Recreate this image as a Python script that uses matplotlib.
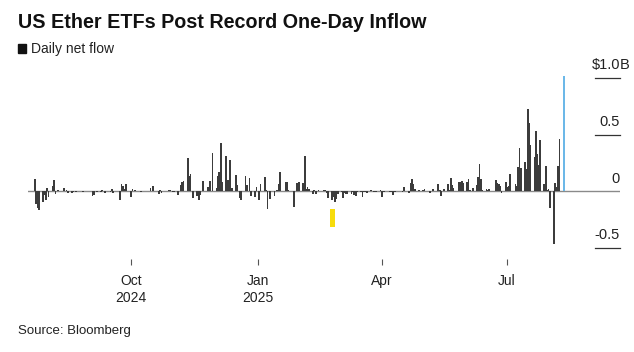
import pandas as pd
import matplotlib
matplotlib.use('Agg')
import matplotlib.pyplot as plt
import matplotlib.transforms as mtransforms
from matplotlib.patches import Rectangle

plt.rcParams['font.family'] = ['Liberation Sans', 'DejaVu Sans']

# US market holidays in the window (no ETF flows those days)
holidays = ['2024-09-02', '2024-11-28', '2024-12-25', '2025-01-01', '2025-01-09',
            '2025-01-20', '2025-02-17', '2025-04-18', '2025-05-26', '2025-06-19',
            '2025-07-04']

# daily net flow, $B, one value per trading day, by month
flow_2024_07 = [0.107, -0.113, -0.152, -0.163, -0.098, -0.034, -0.077]
flow_2024_08 = [0.027, -0.054, 0.049, 0.098, -0.024, 0.003, 0.006, 0.005, 0.024, -0.001,
                0.011, -0.016, -0.014, -0.007, -0.001, -0.005, 0.0, -0.003, -0.004, 0.0,
                0.005, -0.002]
flow_2024_09 = [-0.047, -0.038, 0.0, -0.006, -0.005, 0.011, 0.0, -0.020, 0.002, -0.010,
                0.015, -0.015, 0.005, -0.001, -0.079, 0.063, 0.043, 0.015, 0.059, 0.0]
flow_2024_10 = [-0.049, 0.015, 0.001, 0.007, -0.002, -0.009, 0.0, -0.002, 0.0, 0.0,
                0.024, 0.005, 0.048, 0.002, -0.021, 0.011, -0.019, -0.002, -0.002, 0.008,
                0.007, 0.004, -0.011]
flow_2024_11 = [-0.011, -0.030, 0.0, 0.052, 0.080, 0.086, 0.296, 0.136, 0.147, 0.003,
                -0.060, -0.039, -0.081, -0.033, 0.0, 0.091, 0.003, 0.040, 0.090, 0.333]
flow_2024_12 = [0.024, 0.133, 0.168, 0.429, 0.084, 0.306, 0.102, 0.102, 0.274, 0.024,
                0.146, 0.051, 0.003, -0.061, -0.075, 0.131, 0.054, 0.117, -0.047, -0.055,
                0.036]
flow_2025_01 = [-0.077, 0.059, 0.129, 0.014, -0.159, -0.069, -0.039, 0.0, 0.012, 0.060,
                0.167, 0.078, 0.080, 0.010, 0.005, -0.136, 0.005, 0.068, 0.070, 0.085]
flow_2025_02 = [0.070, 0.308, 0.019, 0.037, 0.021, -0.023, 0.012, -0.022, 0.002, 0.011,
                0.011, 0.007, -0.016, -0.062, -0.078, -0.050, -0.094, -0.071, -0.026]
flow_2025_03 = [-0.012, -0.063, -0.015, -0.025, -0.023, -0.021, -0.010, -0.032, -0.040, -0.012,
                -0.007, -0.052, -0.012, -0.011, -0.019, 0.014, -0.003, -0.005, -0.004, -0.006,
                0.006]
flow_2025_04 = [-0.050, -0.004, -0.004, 0.0, -0.006, -0.004, -0.032, -0.011, -0.006, 0.0,
                -0.003, -0.012, 0.040, -0.019, 0.070, 0.110, 0.065, 0.018, 0.006, 0.0,
                0.002]
flow_2025_05 = [0.006, 0.020, -0.001, -0.015, 0.002, 0.017, 0.004, 0.065, 0.010, -0.040,
                0.002, 0.015, 0.062, 0.012, 0.118, 0.050, 0.032, 0.078, 0.085, 0.092,
                0.070]
flow_2025_06 = [0.078, 0.110, 0.011, 0.005, 0.025, 0.053, 0.125, 0.240, 0.110, 0.012,
                0.021, 0.011, 0.019, 0.005, 0.101, 0.071, 0.062, 0.048, -0.020, 0.080]
flow_2025_07 = [0.040, 0.045, 0.149, 0.062, 0.047, 0.211, 0.383, 0.205, 0.259, 0.192,
                0.727, 0.602, 0.403, 0.297, 0.534, 0.332, 0.231, 0.453, 0.065, 0.219,
                0.006, 0.017]
flow_2025_08 = [-0.152, -0.465, 0.073, 0.035, 0.222, 0.461, 1.019]

flows = (flow_2024_07 + flow_2024_08 + flow_2024_09 + flow_2024_10 + flow_2024_11 +
         flow_2024_12 + flow_2025_01 + flow_2025_02 + flow_2025_03 + flow_2025_04 +
         flow_2025_05 + flow_2025_06 + flow_2025_07 + flow_2025_08)
days = pd.bdate_range('2024-07-23', '2025-08-11', freq='C', holidays=holidays)

# yellow marker under the bars in late February
marker_day = pd.Timestamp('2025-02-24')
marker_low, marker_high = -0.32, -0.16

tick_dates = pd.to_datetime(['2024-10-01', '2025-01-01', '2025-04-01', '2025-07-01'])
tick_labels = ['Oct\n2024', 'Jan\n2025', 'Apr', 'Jul']
y_ticks = [-0.5, 0, 0.5, 1.0]
y_labels = ['-0.5', '0', '0.5', '$1.0']

fig = plt.figure(figsize=(6.34, 3.52), dpi=100)
ax = fig.add_axes([0.044, 0.264, 0.934, 0.563])

ax.bar(days[:-1], flows[:-1], width=1.25, color='#3c3c3c', linewidth=0, zorder=2)
ax.bar(days[-1:], flows[-1:], width=1.5, color='#6cb8e8', linewidth=0, zorder=3)
ax.bar(marker_day, marker_high - marker_low, bottom=marker_low, width=3.5,
       color='#f7dc0c', linewidth=0, zorder=2)
ax.axhline(0, color='#8a8a8a', lw=1.0, zorder=1)

ax.set_xlim(pd.Timestamp('2024-07-18'), pd.Timestamp('2025-09-21'))
ax.set_ylim(-0.6, 1.15)
for s in ax.spines.values():
    s.set_visible(False)
ax.set_yticks([])
ax.set_xticks(tick_dates)
ax.set_xticklabels(tick_labels, fontsize=10, color='#222222', linespacing=1.2)
ax.tick_params(axis='x', length=4, width=0.8, color='#555555', pad=7)

trans = mtransforms.blended_transform_factory(ax.transAxes, ax.transData)
for v, lab in zip(y_ticks, y_labels):
    if v != 0:
        ax.plot([0.958, 1.0], [v, v], transform=trans, color='#333333', lw=0.9,
                clip_on=False)
    ax.annotate(lab, xy=(1.0, v), xycoords=trans, xytext=(0, 4),
                textcoords='offset points', ha='right', va='bottom', fontsize=10.5,
                color='#222222', annotation_clip=False)
    if lab.startswith('$'):
        ax.annotate('B', xy=(1.0, v), xycoords=trans, xytext=(0, 4),
                    textcoords='offset points', ha='left', va='bottom', fontsize=10.5,
                    color='#222222', annotation_clip=False)

fig.text(0.028, 0.937, 'US Ether ETFs Post Record One-Day Inflow', fontsize=14.2,
         fontweight='bold', va='center', color='#111111')
fig.patches.append(Rectangle((18 / 634, 1 - 53 / 352), 8 / 634, 9 / 352,
                             transform=fig.transFigure, color='#111111'))
fig.text(31 / 634, 1 - 48.5 / 352, 'Daily net flow', fontsize=10, va='center',
         color='#222222')
fig.text(0.028, 1 - 331 / 352, 'Source: Bloomberg', fontsize=9.5, va='center',
         color='#222222')

fig.savefig('out.png', dpi=100)
